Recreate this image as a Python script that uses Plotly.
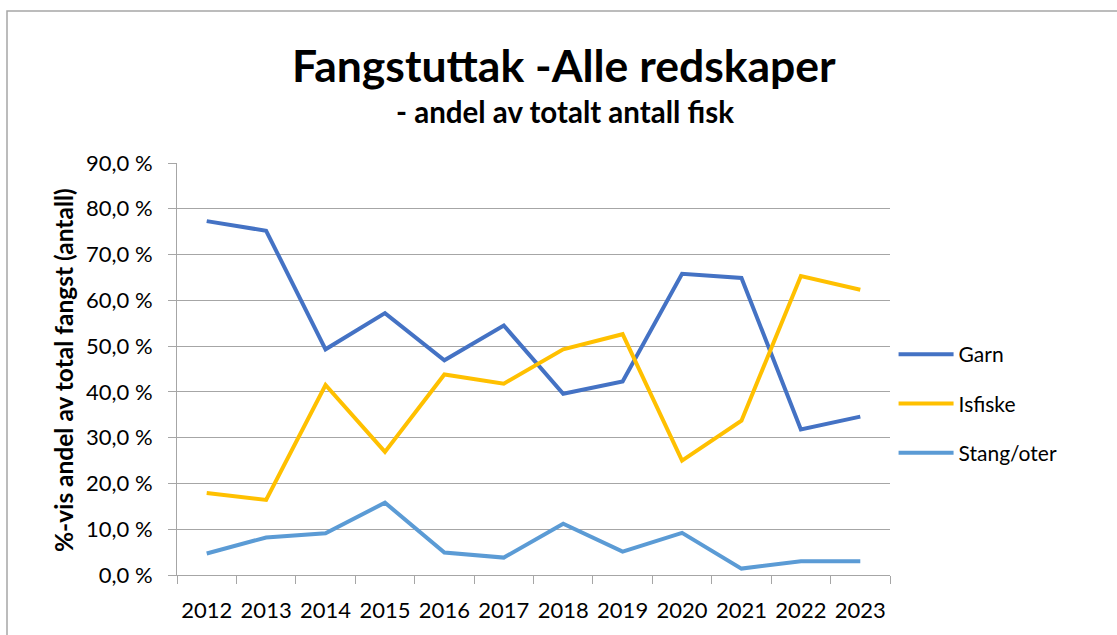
import plotly.graph_objects as go

years = ["2012", "2013", "2014", "2015", "2016", "2017", "2018", "2019", "2020", "2021", "2022", "2023"]
garn = [77.3, 75.2, 49.3, 57.2, 46.9, 54.5, 39.6, 42.3, 65.8, 64.9, 31.8, 34.6]
isfiske = [17.9, 16.4, 41.5, 26.9, 43.8, 41.8, 49.3, 52.6, 25.0, 33.7, 65.3, 62.3]
stang = [4.7, 8.2, 9.1, 15.8, 4.9, 3.8, 11.2, 5.1, 9.2, 1.4, 3.0, 3.0]

y_ticks = [0, 10, 20, 30, 40, 50, 60, 70, 80, 90]
y_tick_labels = ["0,0 %", "10,0 %", "20,0 %", "30,0 %", "40,0 %", "50,0 %", "60,0 %", "70,0 %", "80,0 %", "90,0 %"]

series_names = ["Garn", "Isfiske", "Stang/oter"]
series_colors = ["#4472C4", "#FFC000", "#5B9BD5"]

FONT = "Lato"

fig = go.Figure()
for i, (name, vals, col) in enumerate(zip(series_names, [garn, isfiske, stang], series_colors)):
    fig.add_trace(go.Scatter(
        x=years, y=vals, name=name, mode="lines",
        line=dict(color=col, width=4),
        legendgroup=f"g{i}",
    ))

W, H = 1117, 635
L, R, T, B = 177, 890, 163, 575

fig.update_layout(
    width=W, height=H,
    margin=dict(l=L, r=W - R, t=T, b=H - B, autoexpand=False),
    paper_bgcolor="white", plot_bgcolor="white",
    font=dict(family=FONT, size=21, color="black"),
    showlegend=True,
    legend=dict(
        x=1.005, y=0.585, xanchor="left", yanchor="top",
        font=dict(family=FONT, size=21, color="black"),
        tracegroupgap=19, bgcolor="rgba(0,0,0,0)", itemwidth=55,
    ),
    xaxis=dict(
        type="category", tickson="boundaries",
        showgrid=False, showline=True, linecolor="#a6a6a6", linewidth=1,
        ticks="outside", ticklen=8, tickcolor="#a6a6a6",
        tickfont=dict(family=FONT, size=22, color="black"), tickangle=0,
        range=[-0.5, 11.5], ticklabelstandoff=16,
    ),
    yaxis=dict(
        range=[0, 90], tickvals=y_ticks, ticktext=y_tick_labels,
        showgrid=True, gridcolor="#a6a6a6", gridwidth=1,
        showline=True, linecolor="#a6a6a6", linewidth=1,
        ticks="outside", ticklen=8, tickcolor="#a6a6a6",
        tickfont=dict(family=FONT, size=22, color="black"),
        zeroline=False, ticklabelstandoff=11,
    ),
    shapes=[dict(
        type="rect", xref="paper", yref="paper",
        x0=(7 - L) / (R - L), x1=(1130 - L) / (R - L),
        y0=(B - 650) / (B - T), y1=(B - 11) / (B - T),
        line=dict(color="#a6a6a6", width=1.5), fillcolor="rgba(0,0,0,0)", layer="above",
    )],
    annotations=[
        dict(text="<b>Fangstuttak -Alle redskaper</b>", xref="paper", yref="paper",
             x=(564 - L) / (R - L), y=(B - 64) / (B - T), xanchor="center", yanchor="middle",
             showarrow=False, font=dict(family=FONT, size=44.5, color="black")),
        dict(text="<b>- andel av totalt antall fisk</b>", xref="paper", yref="paper",
             x=(565 - L) / (R - L), y=(B - 111) / (B - T), xanchor="center", yanchor="middle",
             showarrow=False, font=dict(family=FONT, size=29.5, color="black")),
        dict(text="<b>%-vis andel av total fangst (antall)</b>", xref="paper", yref="paper",
             x=(63 - L) / (R - L), y=(B - 370) / (B - T), xanchor="center", yanchor="middle",
             textangle=-90, showarrow=False, font=dict(family=FONT, size=24.5, color="black")),
    ],
)

fig.write_html("out.html", config={"displayModeBar": False},
               post_script="document.body.style.margin='0';document.body.style.overflow='hidden';")
